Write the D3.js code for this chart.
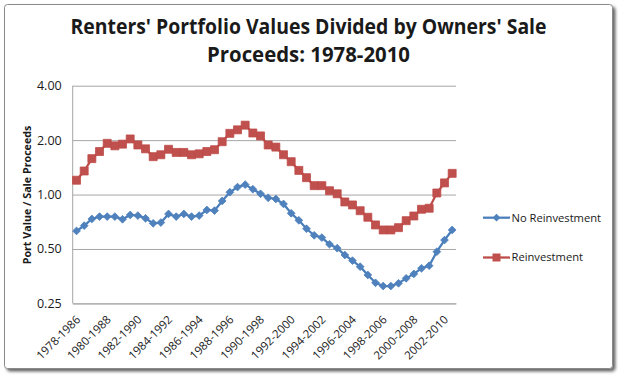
<!DOCTYPE html>
<html>
<head>
<meta charset="utf-8">
<script src="https://cdn.jsdelivr.net/npm/d3@7"></script>
<style>
  html, body { margin: 0; padding: 0; background: #ffffff; }
  svg { display: block; }
  text { font-family: "Open Sans", "Lato", sans-serif; fill: #1a1a1a; }
</style>
</head>
<body>
<svg id="chart" width="620" height="377"></svg>
<script>
// ---------------- data ----------------
const categories = [
  "1978-1986 H1","1978-1986 H2","1979-1987 H1","1979-1987 H2","1980-1988 H1","1980-1988 H2",
  "1981-1989 H1","1981-1989 H2","1982-1990 H1","1982-1990 H2","1983-1991 H1","1983-1991 H2",
  "1984-1992 H1","1984-1992 H2","1985-1993 H1","1985-1993 H2","1986-1994 H1","1986-1994 H2",
  "1987-1995 H1","1987-1995 H2","1988-1996 H1","1988-1996 H2","1989-1997 H1","1989-1997 H2",
  "1990-1998 H1","1990-1998 H2","1991-1999 H1","1991-1999 H2","1992-2000 H1","1992-2000 H2",
  "1993-2001 H1","1993-2001 H2","1994-2002 H1","1994-2002 H2","1995-2003 H1","1995-2003 H2",
  "1996-2004 H1","1996-2004 H2","1997-2005 H1","1997-2005 H2","1998-2006 H1","1998-2006 H2",
  "1999-2007 H1","1999-2007 H2","2000-2008 H1","2000-2008 H2","2001-2009 H1","2001-2009 H2",
  "2002-2010 H1","2002-2010 H2"
];
const tickLabels = ["1978-1986","1980-1988","1982-1990","1984-1992","1986-1994","1988-1996",
  "1990-1998","1992-2000","1994-2002","1996-2004","1998-2006","2000-2008","2002-2010"];
const tickCategories = ["1978-1986 H1","1980-1988 H1","1982-1990 H1","1984-1992 H1","1986-1994 H1",
  "1988-1996 H1","1990-1998 H1","1992-2000 H1","1994-2002 H1","1996-2004 H1","1998-2006 H1",
  "2000-2008 H1","2002-2010 H1"];
const noReinvestment = [0.629,0.673,0.733,0.755,0.755,0.755,0.730,0.771,0.765,0.739,
  0.693,0.700,0.781,0.755,0.781,0.755,0.765,0.822,0.815,0.922,
  1.03,1.10,1.135,1.07,1.01,0.96,0.945,0.887,0.788,0.72,
  0.647,0.595,0.578,0.531,0.505,0.463,0.431,0.399,0.359,0.325,
  0.312,0.312,0.323,0.344,0.364,0.391,0.404,0.483,0.56,0.637];
const reinvestment = [1.20,1.35,1.58,1.73,1.92,1.86,1.90,2.03,1.88,1.79,
  1.62,1.66,1.78,1.71,1.71,1.66,1.68,1.73,1.77,1.96,
  2.18,2.28,2.42,2.19,2.11,1.88,1.83,1.66,1.52,1.36,
  1.24,1.12,1.12,1.05,1.01,0.91,0.876,0.814,0.749,0.679,
  0.637,0.637,0.656,0.717,0.761,0.829,0.84,1.02,1.16,1.31];
const yTicks = [0.25, 0.5, 1, 2, 4];
const seriesNames = ["No Reinvestment", "Reinvestment"];
const titleLines = ["Renters' Portfolio Values Divided by Owners' Sale", "Proceeds: 1978-2010"];
const yTitle = "Port Value / Sale Proceeds";

// ---------------- layout ----------------
const svg = d3.select("#chart");
const plot = { left: 72.7, right: 456, top: 85.7, bottom: 303.4 };
const colors = { blue: "#4F81BD", blueLine: "#4A7EBB", red: "#C0504D", redLine: "#BE4B48" };

// frame with shadow
const defs = svg.append("defs");
const f = defs.append("filter").attr("id", "shadow").attr("x", "-5%").attr("y", "-5%").attr("width", "110%").attr("height", "110%");
f.append("feDropShadow").attr("dx", 2.5).attr("dy", 2.5).attr("stdDeviation", 1.5).attr("flood-color", "#000").attr("flood-opacity", 0.6);
svg.append("rect").attr("x", 4.5).attr("y", 4.5).attr("width", 608).attr("height", 364)
  .attr("rx", 3).attr("fill", "#fff").attr("stroke", "#8a8a8a").attr("stroke-width", 1)
  .attr("filter", "url(#shadow)");

// title
const titleG = svg.append("g");
const titleWidths = [476, 203];
titleLines.forEach((t, i) => {
  titleG.append("text").attr("x", 308.5).attr("y", 34 + i * 28)
    .attr("text-anchor", "middle").attr("font-weight", "bold").attr("font-size", 20.5)
    .attr("textLength", titleWidths[i]).attr("lengthAdjust", "spacingAndGlyphs")
    .text(t);
});

// scales
const x = d3.scaleBand().domain(categories).range([plot.left, plot.right]).paddingInner(0).paddingOuter(0);
const cx = c => x(c) + x.bandwidth() / 2;
const y = d3.scaleLog().base(2).domain([0.25, 4]).range([plot.bottom, plot.top]);

// y axis with gridlines
const yAxis = d3.axisLeft(y).tickValues(yTicks).tickFormat(d3.format(".2f"))
  .tickSize(-(plot.right - plot.left)).tickPadding(11);
const yG = svg.append("g").attr("transform", `translate(${plot.left},0)`).call(yAxis);
yG.attr("font-family", null).attr("font-size", null);
yG.select(".domain").remove();
yG.selectAll(".tick line").attr("stroke", "#a6a6a6").attr("stroke-width", 1);
yG.selectAll(".tick text").attr("font-size", 12.5).attr("fill", "#1a1a1a");
// vertical axis line
svg.append("line").attr("x1", plot.left).attr("x2", plot.left).attr("y1", plot.top).attr("y2", plot.bottom)
  .attr("stroke", "#a6a6a6");

// x axis with rotated labels
const labelOf = c => tickLabels[tickCategories.indexOf(c)];
const xAxis = d3.axisBottom(x).tickValues(tickCategories).tickFormat(labelOf).tickSize(0);
const xG = svg.append("g").attr("transform", `translate(0,${plot.bottom})`).call(xAxis);
xG.attr("font-family", null).attr("font-size", null);
xG.select(".domain").attr("stroke", "#a6a6a6");
xG.selectAll(".tick text")
  .attr("font-size", 11.5).attr("fill", "#1a1a1a")
  .attr("text-anchor", "end").attr("dy", null).attr("y", 0)
  .attr("transform", "translate(4.5,17) rotate(-45)");

// y title
svg.append("text").attr("transform", "translate(31,195) rotate(-90)")
  .attr("text-anchor", "middle").attr("font-weight", "bold").attr("font-size", 10.7)
  .text(yTitle);

// lines
const line = d3.line().x((d, i) => cx(categories[i])).y(d => y(d));
svg.append("path").datum(noReinvestment).attr("d", line).attr("fill", "none")
  .attr("stroke", colors.blueLine).attr("stroke-width", 2.25);
svg.append("path").datum(reinvestment).attr("d", line).attr("fill", "none")
  .attr("stroke", colors.redLine).attr("stroke-width", 2.25);

const diamond = d3.symbol().type(d3.symbolSquare).size(30);
const square = d3.symbol().type(d3.symbolSquare).size(64);
svg.append("g").selectAll("path").data(noReinvestment).join("path")
  .attr("d", diamond)
  .attr("transform", (d, i) => `translate(${cx(categories[i])},${y(d)}) rotate(45)`)
  .attr("fill", colors.blue).attr("stroke", colors.blueLine).attr("stroke-width", 0.75);
svg.append("g").selectAll("path").data(reinvestment).join("path")
  .attr("d", square)
  .attr("transform", (d, i) => `translate(${cx(categories[i])},${y(d)})`)
  .attr("fill", colors.red).attr("stroke", colors.redLine).attr("stroke-width", 0.75);

// legend
const legend = svg.append("g");
const legY = [217.7, 257.5];
seriesNames.forEach((name, i) => {
  const g = legend.append("g").attr("transform", `translate(483,${legY[i]})`);
  g.append("line").attr("x1", 0).attr("x2", 27).attr("y1", 0).attr("y2", 0)
    .attr("stroke", i === 0 ? colors.blueLine : colors.redLine).attr("stroke-width", 2.25);
  g.append("path").attr("d", i === 0 ? diamond : square)
    .attr("transform", i === 0 ? "translate(13.5,0) rotate(45)" : "translate(13.5,0)")
    .attr("fill", i === 0 ? colors.blue : colors.red);
  g.append("text").attr("x", 28.5).attr("y", 0).attr("dy", "0.35em")
    .attr("font-size", 11.2).text(name);
});
</script>
</body>
</html>
